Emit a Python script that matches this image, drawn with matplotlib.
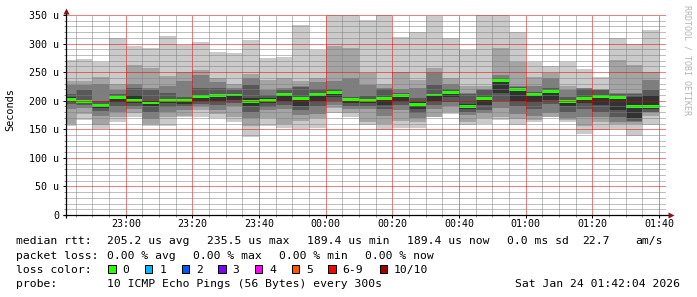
import matplotlib
matplotlib.use("Agg")
import matplotlib.pyplot as plt
import matplotlib.dates as mdates
from matplotlib.ticker import MultipleLocator, FuncFormatter
from matplotlib.patches import Rectangle
from datetime import datetime, timedelta
import numpy as np

# ---------------- data ----------------
bar_end_times = ["22:45", "22:50", "22:55", "23:00", "23:05", "23:10", "23:15", "23:20",
                 "23:25", "23:30", "23:35", "23:40", "23:45", "23:50", "23:55", "00:00",
                 "00:05", "00:10", "00:15", "00:20", "00:25", "00:30", "00:35", "00:40",
                 "00:45", "00:50", "00:55", "01:00", "01:05", "01:10", "01:15", "01:20",
                 "01:25", "01:30", "01:35", "01:40"]

# sorted ping round-trip times per 5-minute step (microseconds), rank 1 (fastest) .. 10 (slowest)
rtt_1 = [156, 166, 150, 162, 172, 156, 156, 172, 172, 169, 162, 136, 155, 153, 150, 152, 179, 172,
         157, 149, 152, 153, 171, 176, 157, 159, 166, 157, 162, 171, 162, 142, 149, 150, 138, 157]
rtt_2 = [160, 177, 157, 171, 179, 160, 172, 174, 183, 177, 172, 156, 169, 160, 165, 169, 187, 178,
         163, 160, 165, 162, 172, 180, 163, 170, 172, 168, 166, 172, 166, 155, 163, 159, 160, 173]
rtt_3 = [186, 188, 173, 181, 185, 168, 181, 184, 190, 184, 191, 169, 183, 185, 175, 177, 192, 185,
         185, 173, 184, 169, 185, 190, 175, 179, 187, 177, 173, 179, 169, 171, 172, 162, 162, 180]
rtt_4 = [195, 193, 182, 190, 191, 180, 189, 190, 194, 192, 196, 180, 189, 192, 184, 191, 200, 190,
         190, 185, 192, 178, 192, 198, 181, 184, 200, 191, 185, 194, 181, 185, 181, 171, 164, 181]
rtt_5 = [199, 196, 187, 198, 196, 190, 196, 195, 200, 200, 202, 190, 196, 200, 190, 200, 207, 196,
         196, 193, 200, 186, 200, 206, 186, 192, 213, 200, 198, 202, 190, 196, 192, 184, 170, 185]
rtt_6 = [206, 202, 195, 208, 210, 200, 203, 203, 210, 212, 212, 205, 205, 214, 206, 214, 217, 204,
         203, 206, 211, 198, 212, 216, 195, 206, 237, 221, 213, 218, 200, 206, 209, 207, 206, 210]
rtt_7 = [212, 218, 200, 212, 223, 219, 214, 207, 222, 223, 218, 228, 210, 219, 224, 220, 220, 206,
         208, 221, 214, 204, 228, 220, 211, 218, 240, 224, 216, 222, 206, 221, 218, 211, 211, 219]
rtt_8 = [227, 227, 229, 218, 229, 223, 226, 235, 245, 232, 222, 239, 219, 222, 226, 232, 235, 239,
         227, 223, 220, 223, 248, 229, 213, 220, 245, 226, 226, 239, 218, 222, 219, 213, 214, 237]
rtt_9 = [235, 235, 241, 230, 262, 257, 243, 251, 254, 239, 230, 247, 236, 239, 235, 239, 296, 292,
         249, 229, 251, 237, 257, 239, 226, 226, 292, 267, 241, 249, 226, 223, 220, 272, 262, 251]
rtt_10 = [271, 273, 268, 310, 296, 292, 313, 298, 302, 285, 283, 306, 274, 277, 332, 288, 356, 356,
          342, 356, 311, 320, 348, 309, 288, 356, 356, 321, 267, 261, 268, 255, 241, 309, 299, 324]
median_rtt = [202.7, 198, 192, 205, 201, 196, 200, 200, 207, 209, 210, 199, 200, 211, 204, 211,
              215, 202, 201, 204, 209, 194, 210, 214, 190.2, 204, 235.5, 219, 211, 216, 198, 204,
              207, 205, 189.6, 189.4]

smoke_grays = ["#cacaca", "#a4a4a4", "#7e7e7e", "#585858", "#323232"]
loss_labels = ["0", "1", "2", "3", "4", "5", "6-9", "10/10"]
loss_colors = ["#26ff00", "#00b8ff", "#0059ff", "#7e00ff", "#ff00ff", "#ff5500", "#ff0000", "#a10000"]

y_ticks_label_unit = "u"
now_time = datetime(2026, 1, 24, 1, 42, 4)

legend_line1 = [("median rtt:", 16), ("205.2 us avg", 107.3), ("235.5 us max", 207.3),
                ("189.4 us min", 306.7), ("189.4 us now", 407), ("0.0 ms sd", 507),
                ("22.7", 582), ("am/s", 635.3)]
legend_line2 = [("packet loss:", 16), ("0.00 % avg", 107.3), ("0.00 % max", 193.3),
                ("0.00 % min", 279.3), ("0.00 % now", 365.3)]
probe_text = "10 ICMP Echo Pings (56 Bytes) every 300s"
date_text = "Sat Jan 24 01:42:04 2026"

# ---------------- figure ----------------
plt.rcParams['font.family'] = ['DejaVu Sans Mono']
W, H = 697, 297
fig = plt.figure(figsize=(W / 100, H / 100), dpi=100, facecolor="white")


def fx(px):
    return px / W


def fy(py):
    return 1 - py / H


ax = fig.add_axes([fx(66), fy(215), 600 / W, 200 / H])
ax.set_facecolor("white")


def to_dt(s):
    h, m = map(int, s.split(":"))
    day = 23 if h >= 12 else 24
    return datetime(2026, 1, day, h, m)


ends = [to_dt(t) for t in bar_end_times]
lefts = mdates.date2num([e - timedelta(minutes=5) for e in ends])
width = 5 / 1440.0

pings = [rtt_1, rtt_2, rtt_3, rtt_4, rtt_5, rtt_6, rtt_7, rtt_8, rtt_9, rtt_10]
for i in range(5):
    lo = np.array(pings[i], dtype=float)
    hi = np.array(pings[9 - i], dtype=float)
    ax.bar(lefts, hi - lo, bottom=lo, width=width, align="edge", color=smoke_grays[i],
           linewidth=0, antialiased=False, zorder=1 + i * 0.01)

sw = 2.6
med = np.array(median_rtt)
ax.bar(lefts, 2 * sw, bottom=med - sw, width=width, align="edge", color=loss_colors[0],
       linewidth=0, antialiased=False, zorder=1.2)

ax.set_xlim(mdates.date2num(now_time - timedelta(hours=3)), mdates.date2num(now_time))
ax.set_ylim(0, 350)

ax.xaxis.set_major_locator(mdates.MinuteLocator(byminute=[0, 20, 40]))
ax.xaxis.set_minor_locator(mdates.MinuteLocator(byminute=range(0, 60, 5)))
ax.xaxis.set_major_formatter(mdates.DateFormatter("%H:%M"))
ax.yaxis.set_major_locator(MultipleLocator(50))
ax.yaxis.set_minor_locator(MultipleLocator(10))
ax.yaxis.set_major_formatter(FuncFormatter(lambda v, p: "0" if v == 0 else f"{int(v)} {y_ticks_label_unit}"))

ax.set_axisbelow(False)
ax.grid(which="minor", color=(0.5, 0.5, 0.5, 0.32), linestyle=(0, (1, 1)), linewidth=0.72,
        snap=True)
ax.grid(which="major", color=(0.9, 0.0, 0.0, 0.22), linestyle=(0, (1, 1)), linewidth=0.72,
        snap=True)

for s in ax.spines.values():
    s.set_visible(False)

ax.tick_params(which="major", length=2.2, width=0.72, color="black", labelsize=7.2, labelcolor="black")
ax.tick_params(axis="x", which="major", pad=1.0)
ax.tick_params(axis="y", which="major", pad=2.6)
ax.tick_params(which="minor", length=1.5, width=0.72, color="#909090")
for lab in ax.get_yticklabels():
    lab.set_verticalalignment("center_baseline")

# axis lines with arrows
ax.plot([-3 / 600, 604 / 600], [0, 0], transform=ax.transAxes, color="black", lw=0.9,
        clip_on=False, zorder=5, solid_capstyle="butt")
ax.plot([0, 0], [-3 / 200, (215 - 12) / 200], transform=ax.transAxes, color="black", lw=0.9,
        clip_on=False, zorder=5, solid_capstyle="butt")
ax.plot([(671 - 66) / 600], [0], marker=">", ms=4.2, color="#8b1010", mec="none",
        transform=ax.transAxes, clip_on=False, zorder=6)
ax.plot([0], [(215 - 11) / 200], marker="^", ms=4.2, color="#8b1010", mec="none",
        transform=ax.transAxes, clip_on=False, zorder=6)

# vertical label and watermark
fig.text(fx(10.5), fy(110), "Seconds", rotation=90, ha="center", va="center", fontsize=7.4)
fig.text(fx(687), fy(60), "RRDTOOL / TOBI OETIKER", rotation=-90, ha="center", va="center",
         fontsize=6, color="#b4b4b4")

# legend
LFS = 8.2
for txt, x in legend_line1:
    fig.text(fx(x), fy(244.3), txt, ha="left", va="baseline", fontsize=LFS)
for txt, x in legend_line2:
    fig.text(fx(x), fy(258.6), txt, ha="left", va="baseline", fontsize=LFS)
fig.text(fx(16), fy(272.9), "loss color:", ha="left", va="baseline", fontsize=LFS)
bx = 108.3
for lab, col in zip(loss_labels, loss_colors):
    fig.patches.append(Rectangle((fx(bx), fy(272.7)), 7.4 / W, 7.7 / H, transform=fig.transFigure,
                                 facecolor=col, edgecolor="black", linewidth=0.72))
    fig.text(fx(bx + 14.4), fy(272.9), lab, ha="left", va="baseline", fontsize=LFS)
    bx += (len(lab) + 4) * 7.33
fig.text(fx(16), fy(287.2), "probe:", ha="left", va="baseline", fontsize=LFS)
fig.text(fx(107.3), fy(287.2), probe_text, ha="left", va="baseline", fontsize=LFS)
fig.text(fx(680.3), fy(287.2), date_text, ha="right", va="baseline", fontsize=LFS)

fig.savefig("out.png", dpi=100, facecolor="white")
